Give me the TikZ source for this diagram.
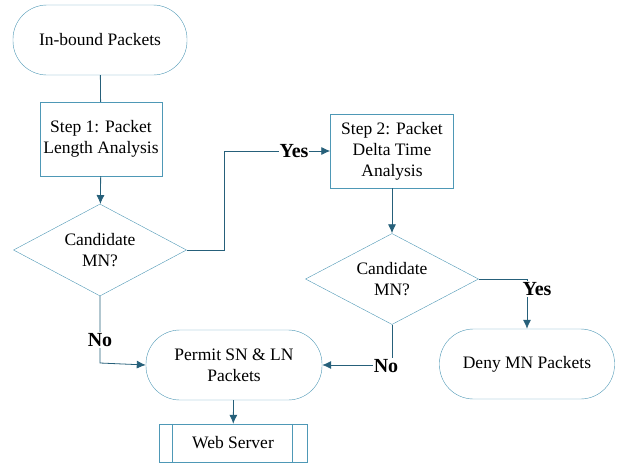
\documentclass[tikz,border=0pt]{standalone}
\usepackage{fontspec}
\setmainfont{Liberation Serif}
\usetikzlibrary{arrows.meta,shapes,positioning,calc}
\definecolor{boxline}{RGB}{78,152,182}
\definecolor{flowline}{RGB}{38,96,122}
\tikzset{
	-Latex,thick,% every connector gets a filled tip
	terminal/.style ={rectangle, rounded corners=34pt, draw=boxline, align=center, minimum width=174pt, minimum height=70pt},
	stepbox/.style ={rectangle, draw=boxline, align=center, minimum width=122pt, minimum height=74pt, inner sep=1pt},
	decision/.style ={diamond, aspect=1.86, inner sep=0pt, draw=boxline, align=center, minimum width=173pt, minimum height=92pt},
	serverbox/.style ={rectangle, draw=boxline, minimum width=148pt, minimum height=38pt},
	answer/.style = {fill=white, text=black, inner sep=1pt, font=\fontsize{20}{22}\selectfont\bfseries}
}

\begin{document}
\begin{tikzpicture}[x=1pt,y=-1pt,font=\fontsize{17.5}{21}\selectfont,
        flow/.style={thick,flowline,-{Latex[length=9pt,width=8pt]}},
        plain/.style={thick,flowline,-}
        ]
            \useasboundingbox (0,0) rectangle (619,464);
            \node[terminal] (inbound) at (100,40) {In-bound Packets};
            \node[stepbox] (step1) at (101,139) {Step 1: Packet\\Length Analysis};
            \node[decision] (cand1) at (100,250) {Candidate\\MN?};
            \node[stepbox, minimum width=123pt] (step2) at (392,151) {Step 2: Packet\\Delta Time\\Analysis};
            \node[decision, minimum height=91pt] (cand2) at (392,279) {Candidate\\MN?};
            \node[terminal, minimum width=175pt] (deny) at (527,364) {Deny MN Packets};
            \node[terminal, minimum width=176pt] (permit) at (234,365) {Permit SN \& LN\\Packets};
            \node[serverbox] (web) at (233,443) {Web Server};
            \draw[boxline, thick, -] ($(web.north west)+(14,0)$) -- ($(web.south west)+(14,0)$)
                ($(web.north east)+(-15,0)$) -- ($(web.south east)+(-15,0)$);
            \coordinate (turn1) at (224,250);
            \coordinate (low1) at (100,363);
            \coordinate (low2) at (392,365);
            \coordinate (turn2) at (527,279);
            \path[plain] (inbound) edge (step1);
            \path[flow]
                (step1) edge (cand1)
                (step2) edge (cand2)
                (permit) edge (web);
            \draw[flow] (cand1.east) -- (turn1) |- (step2.west);
            \draw[flow] (cand1.south) -- (low1) -- (permit.west);
            \draw[flow] (cand2.south) -- (low2) -- (permit.east);
            \draw[flow] (cand2.east) -- (turn2) -- (deny.north);
            % answers sit on top of the lines
            \node[answer] (yes1) at (294,151) {Yes};
            \node[answer] (no1) at (100,340) {No};
            \node[answer] (no2) at (386,366) {No};
            \node[answer] (yes2) at (537,289) {Yes};
        \end{tikzpicture}
\end{document}
